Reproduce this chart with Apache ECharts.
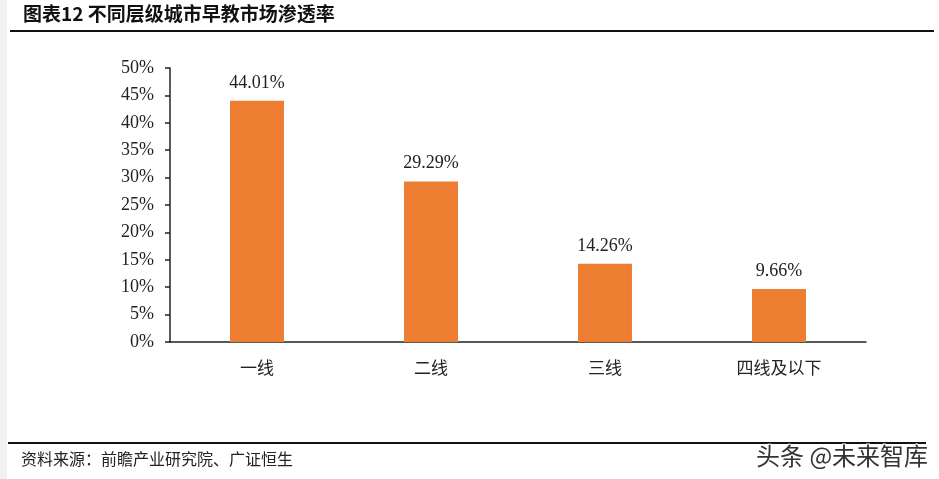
<!DOCTYPE html>
<html>
<head>
<meta charset="utf-8">
<script src="https://cdn.jsdelivr.net/npm/echarts@6/dist/echarts.min.js"></script>
<style>
  html, body { margin: 0; padding: 0; background: #fff; }
  #main { width: 939px; height: 479px; }
</style>
</head>
<body>
<div id="main"></div>
<script>
  // 数据
  var categories = ['一线', '二线', '三线', '四线及以下'];
  var rates = [44.01, 29.29, 14.26, 9.66];
  var yTicks = [0, 5, 10, 15, 20, 25, 30, 35, 40, 45, 50];

  var chart = echarts.init(document.getElementById('main'));
  var serif = '"Liberation Serif", "Times New Roman", serif';
  var cjk = '"Noto Sans CJK SC", sans-serif';

  var option = {
    animation: false,
    backgroundColor: '#fff',
    grid: { left: 170, right: 73, top: 68, bottom: 137 },
    xAxis: {
      type: 'category',
      data: categories,
      axisLine: { lineStyle: { color: '#222', width: 1.5 } },
      axisTick: { show: false },
      axisLabel: { color: '#222', fontFamily: cjk, fontSize: 17, margin: 17 }
    },
    yAxis: {
      type: 'value',
      min: yTicks[0],
      max: yTicks[yTicks.length - 1],
      interval: 5,
      axisLine: { show: true, lineStyle: { color: '#222', width: 1.5 } },
      axisTick: { show: true, length: 5, lineStyle: { color: '#222', width: 1.5 } },
      splitLine: { show: false },
      axisLabel: {
        color: '#222', fontFamily: serif, fontSize: 18, margin: 16,
        formatter: function (v) { return v + '%'; }
      }
    },
    series: [{
      type: 'bar',
      data: rates,
      barWidth: '31%',
      itemStyle: { color: '#ED7D31' },
      label: {
        show: true, position: 'top', distance: 9,
        color: '#222', fontFamily: serif, fontSize: 18,
        formatter: function (p) { return p.value.toFixed(2) + '%'; }
      }
    }],
    graphic: [
      { type: 'rect', left: 0, top: 0, shape: { width: 7, height: 479 }, style: { fill: '#f1f1f1' } },
      { type: 'text', left: 23, top: 4, style: { text: '图表12 不同层级城市早教市场渗透率', fill: '#111', font: 'bold 19px "Noto Sans CJK SC", serif' } },
      { type: 'line', shape: { x1: 10, y1: 31, x2: 934, y2: 31 }, style: { stroke: '#111', lineWidth: 2 } },
      { type: 'line', shape: { x1: 8, y1: 443, x2: 926, y2: 443 }, style: { stroke: '#111', lineWidth: 2 } },
      { type: 'text', left: 21, top: 451, style: { text: '资料来源：前瞻产业研究院、广证恒生', fill: '#222', font: '16px "Noto Sans CJK SC", sans-serif' } },
      { type: 'text', left: 755, top: 443, style: { text: '头条 @未来智库', fill: '#333', font: '24px "Noto Sans CJK SC", sans-serif', stroke: '#fff', lineWidth: 2 } }
    ]
  };

  chart.setOption(option);
</script>
</body>
</html>
